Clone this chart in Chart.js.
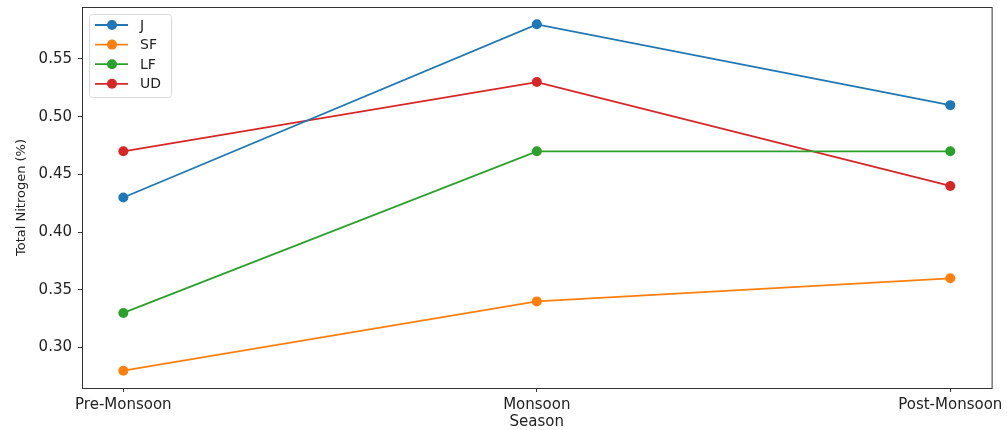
<!DOCTYPE html>
<html>
<head>
<meta charset="utf-8">
<script src="https://cdn.jsdelivr.net/npm/chart.js@4.4.1/dist/chart.umd.min.js"></script>
<style>
  html, body { margin: 0; padding: 0; background: #fff; }
  #wrap { width: 1007px; height: 430px; position: relative; }
</style>
</head>
<body>
<div id="wrap"><canvas id="chart"></canvas></div>
<script>
// Seasons along the x axis
const seasons = ["Pre-Monsoon", "Monsoon", "Post-Monsoon"];
const yTicks = [0.30, 0.35, 0.40, 0.45, 0.50, 0.55];

// Total nitrogen per site
const seriesJ = [0.43, 0.58, 0.51];
const seriesSF = [0.28, 0.34, 0.36];
const seriesLF = [0.33, 0.47, 0.47];
const seriesUD = [0.47, 0.53, 0.44];

const seriesNames = ["J", "SF", "LF", "UD"];
const seriesColors = ["#1f77b4", "#ff7f0e", "#2ca02c", "#d62728"];
const seriesValues = [seriesJ, seriesSF, seriesLF, seriesUD];

const FONT = "'DejaVu Sans', sans-serif";
const INK = "#222";

const datasets = seriesNames.map((name, i) => ({
  label: name,
  data: seriesValues[i].map((v, k) => ({ x: k, y: v })),
  borderColor: seriesColors[i],
  backgroundColor: seriesColors[i],
  borderWidth: 1.8,
  pointRadius: 5,
  pointBorderWidth: 0,
  pointHoverRadius: 5,
  tension: 0,
}));

// box around the axes + legend in the upper left
const frame = {
  id: "frame",
  afterDraw(chart) {
    const { ctx, chartArea: a } = chart;
    ctx.save();
    ctx.strokeStyle = "#333";
    ctx.lineWidth = 1;
    ctx.strokeRect(a.left + 0.5, a.top + 0.5, a.right - a.left, a.bottom - a.top);

    const lx = a.left + 7, ly = a.top + 7, lw = 82, lh = 83;
    ctx.fillStyle = "rgba(255,255,255,0.85)";
    ctx.strokeStyle = "#d9d9d9";
    ctx.beginPath();
    ctx.roundRect(lx + 0.5, ly + 0.5, lw, lh, 3);
    ctx.fill();
    ctx.stroke();

    ctx.font = "14px " + FONT;
    ctx.textBaseline = "middle";
    seriesNames.forEach((name, i) => {
      const y = ly + 11 + i * 19.6;
      ctx.strokeStyle = seriesColors[i];
      ctx.lineWidth = 1.8;
      ctx.beginPath();
      ctx.moveTo(lx + 6, y);
      ctx.lineTo(lx + 39, y);
      ctx.stroke();
      ctx.fillStyle = seriesColors[i];
      ctx.beginPath();
      ctx.arc(lx + 23, y, 5, 0, Math.PI * 2);
      ctx.fill();
      ctx.fillStyle = INK;
      ctx.fillText(name, lx + 51, y + 1);
    });
    ctx.restore();
  },
};

new Chart(document.getElementById("chart"), {
  type: "line",
  data: { datasets },
  plugins: [frame],
  options: {
    responsive: true,
    maintainAspectRatio: false,
    animation: false,
    layout: { padding: { top: 7, right: 15, left: 0, bottom: 0 } },
    plugins: {
      legend: { display: false },
      tooltip: { enabled: false },
    },
    scales: {
      x: {
        type: "linear",
        min: -0.1,
        max: 2.1,
        afterBuildTicks: (s) => { s.ticks = seasons.map((_, i) => ({ value: i })); },
        afterFit: (s) => { s.height = 42; },
        ticks: {
          color: INK,
          font: { family: FONT, size: 15 },
          padding: 4,
          maxRotation: 0,
          autoSkip: false,
          callback: (v) => seasons[v],
        },
        grid: { drawOnChartArea: false, drawTicks: true, tickLength: 4, color: "#333" },
        border: { display: true, color: "#333" },
        title: {
          display: true,
          text: "Season",
          color: INK,
          font: { family: FONT, size: 15 },
          padding: { top: 0, bottom: -1 },
        },
      },
      y: {
        min: 0.265,
        max: 0.595,
        afterBuildTicks: (s) => { s.ticks = yTicks.map((v) => ({ value: v })); },
        afterFit: (s) => {
          s.width = 82;
          s.paddingTop = 0;
          s.paddingBottom = 0;
        },
        ticks: {
          color: INK,
          font: { family: FONT, size: 15 },
          padding: 6,
          callback: (v) => v.toFixed(2),
        },
        grid: { drawOnChartArea: false, drawTicks: true, tickLength: 4, color: "#333" },
        border: { display: true, color: "#333" },
        title: {
          display: true,
          text: "Total Nitrogen (%)",
          color: INK,
          font: { family: FONT, size: 13 },
          padding: { top: 14, bottom: 0 },
        },
      },
    },
  },
});
</script>
</body>
</html>
